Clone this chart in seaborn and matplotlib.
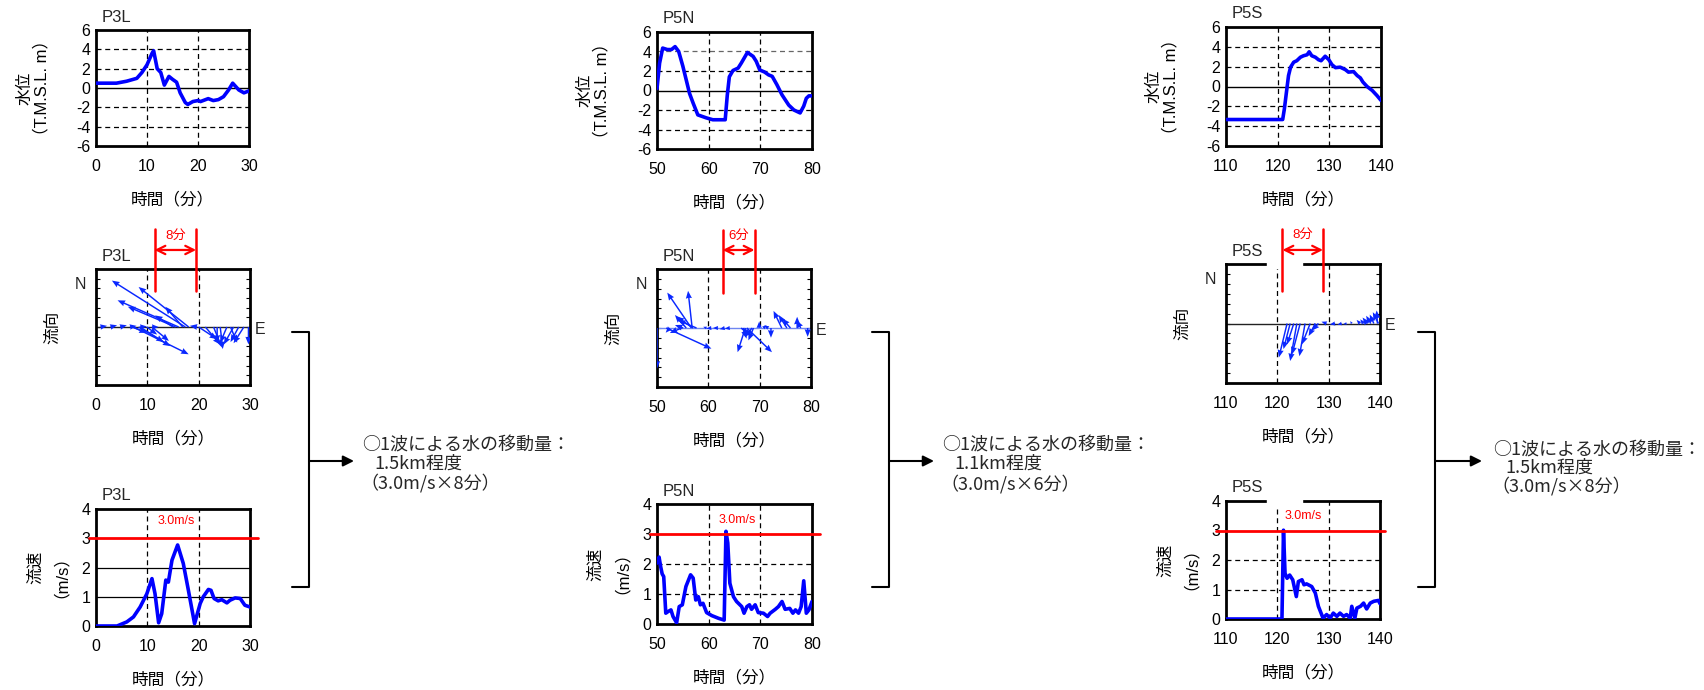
import numpy as np
import pandas as pd
import matplotlib
matplotlib.use("Agg")
import matplotlib.pyplot as plt
import seaborn as sns
from matplotlib.patches import Rectangle

sns.set_theme(style="white")
plt.rcParams["font.family"] = ["Liberation Sans", "Noto Sans CJK JP", "DejaVu Sans"]
plt.rcParams["axes.unicode_minus"] = False

# ---------------- data ----------------
stations = ["P3L", "P5N", "P5S"]
x_ranges = [(0, 30), (50, 80), (110, 140)]
x_ticks = [[0, 10, 20, 30], [50, 60, 70, 80], [110, 120, 130, 140]]
bracket_t = [(11.4, 19.5), (62.8, 69.0), (121.0, 128.9)]
bracket_label = ["8分", "6分", "8分"]
result_km = ["1.5km程度", "1.1km程度", "1.5km程度"]
result_formula = ["（3.0m/s×8分）", "（3.0m/s×6分）", "（3.0m/s×8分）"]
speed_ref = 3.0

# water level (T.M.S.L. m)
p3l_wl_t = [0, 4, 6, 8, 9, 10, 10.5, 11, 11.3, 12, 12.7, 13.4, 14.3, 15, 15.8, 16.5, 17, 17.5, 18,
            19, 20, 20.5, 21, 22, 23, 24, 25, 26, 26.8, 28, 29, 30]
p3l_wl = [0.5, 0.5, 0.7, 1.0, 1.6, 2.4, 3.0, 3.6, 3.85, 2.0, 1.6, 0.3, 1.2, 0.9, 0.6, -0.5, -1.0, -1.5, -1.7,
          -1.4, -1.3, -1.4, -1.3, -1.1, -1.3, -1.2, -0.9, -0.2, 0.5, -0.2, -0.5, -0.3]
p5n_wl_t = [50, 50.5, 51.1, 52, 52.8, 53.5, 54.2, 55, 56.3, 57, 57.9, 59.5, 60.8, 63.2, 63.6, 64.0, 64.7,
            65.7, 66.3, 67.5, 68.6, 69.2, 69.9, 70.8, 71.6, 72.3, 73.2, 74.2, 75.5, 76.5, 77.7, 78.4,
            78.9, 79.4, 80]
p5n_wl = [0.2, 2.8, 4.35, 4.2, 4.2, 4.5, 4.0, 2.5, -0.3, -1.3, -2.5, -2.8, -3.0, -3.0, -0.5, 1.4, 2.05,
          2.3, 2.8, 3.9, 3.5, 3.0, 2.1, 1.9, 1.6, 1.45, 0.6, -0.45, -1.5, -2.0, -2.3, -1.6, -0.8, -0.55, -0.55]
p5s_wl_t = [110, 120.97, 121.3, 121.7, 122.1, 122.5, 123.1, 123.7, 124.4, 125.0, 125.7, 126.1, 126.6,
            127.3, 127.9, 128.4, 129.2, 129.9, 130.5, 131.2, 132.1, 133.1, 133.7, 134.7, 135.4, 136.0,
            136.5, 137.3, 138.3, 139.2, 140]
p5s_wl = [-3.33, -3.33, -2.25, -0.57, 1.1, 1.95, 2.45, 2.6, 2.95, 3.1, 3.2, 3.5, 3.1, 2.95, 2.7, 2.6,
          3.05, 2.7, 2.2, 1.9, 1.95, 1.7, 1.45, 1.5, 1.1, 0.87, 0.45, 0.0, -0.4, -0.9, -1.4]

# flow speed (m/s)
p3l_v_t = [0, 4.1, 6.0, 7.3, 8.6, 9.9, 10.9, 11.5, 12.2, 12.8, 13.6, 14.1, 14.8, 15.9, 17.0, 18.0, 19.2,
           20.3, 20.9, 21.9, 22.4, 23.0, 23.8, 24.5, 25.5, 26.1, 27.1, 28.1, 29.0, 30]
p3l_v = [0, 0, 0.14, 0.31, 0.65, 1.1, 1.62, 1.1, 0.11, 0.42, 1.57, 1.5, 2.25, 2.77, 2.14, 1.22, 0.08,
         0.77, 1.0, 1.25, 1.22, 0.94, 0.86, 0.9, 0.79, 0.88, 0.96, 0.94, 0.71, 0.65]
p5n_v_t = [50, 50.4, 50.7, 51.0, 51.3, 51.7, 52.1, 52.7, 53.1, 53.8, 54.3, 54.9, 55.6, 56.5, 57.0, 57.5,
           58.0, 58.4, 58.9, 59.6, 60.6, 61.9, 63.0, 63.35, 63.7, 64.1, 64.8, 65.4, 66.4, 66.85, 67.4,
           67.9, 68.3, 69.0, 69.6, 70.6, 71.4, 71.9, 72.9, 73.5, 74.2, 74.8, 75.7, 76.3, 76.8, 77.4,
           77.9, 78.4, 78.9, 79.4, 80]
p5n_v = [2.03, 2.23, 1.92, 1.67, 1.58, 0.36, 0.41, 0.47, 0.25, 0.04, 0.58, 0.64, 1.25, 1.64, 1.53, 0.8,
         0.91, 0.64, 0.69, 0.38, 0.28, 0.19, 0.13, 3.09, 2.7, 1.36, 0.91, 0.75, 0.58, 0.36, 0.58,
         0.64, 0.49, 0.64, 0.38, 0.36, 0.25, 0.36, 0.49, 0.58, 0.75, 0.49, 0.52, 0.36, 0.47, 0.36,
         0.58, 1.44, 0.36, 0.47, 0.75]
p5s_v_t = [110, 120.9, 121.2, 121.5, 121.9, 122.4, 123.0, 123.7, 124.1, 124.8, 125.2, 125.7, 126.7,
           127.4, 128.0, 128.9, 129.6, 130.3, 130.9, 131.6, 132.2, 132.9, 133.5, 134.2, 134.5, 135.1,
           135.5, 136.2, 136.8, 137.4, 138.1, 138.8, 139.7, 140]
p5s_v = [0, 0, 3.01, 1.55, 1.38, 1.49, 1.33, 0.76, 1.27, 1.33, 1.16, 1.19, 1.1, 0.88, 0.43, 0.03, 0.15,
         0.03, 0.2, 0.09, 0.2, 0.09, 0.15, 0.03, 0.43, 0.03, 0.37, 0.43, 0.54, 0.34, 0.54, 0.6, 0.63, 0.52]

# flow direction vectors: tail time, east component, north component (axis units)
p3l_dir_t = [17.4, 18.05, 16.1, 15.5, 16.9, 15.0, 19.7, 0.85, 2.8, 4.7, 6.6, 8.6, 10.9, 7.3, 8.3, 8.6,
             7.0, 9.9, 10.9, 20.0, 21.3, 22.9, 24.2, 25.5, 26.8, 27.8, 26.2, 28.8, 29.7, 23.6]
p3l_dir_u = [-14.3, -9.75, -11.9, -9.3, -3.4, -3.5, -1.4, 1.3, 1.3, 1.3, 1.3, 1.3, 1.3, 10.75, 6.2, 4.6,
             2.9, 2.0, 3.3, 3.6, 2.9, 1.6, 0.5, -1.3, -1.9, -1.6, 1.3, -2.0, 0.0, 0.0]
p3l_dir_v = [0.80, 0.69, 0.46, 0.35, 0.35, 0.2, 0.02, 0.02, 0.03, 0.03, 0.02, 0.01, 0.0, -0.47, -0.33,
             -0.26, -0.1, -0.13, -0.24, -0.21, -0.30, -0.35, -0.38, -0.27, -0.3, -0.26, -0.27, -0.28,
             -0.3, -0.27]
p5n_dir_t = [50.0, 56.7, 56.85, 55.7, 57.0, 57.7, 55.1, 51.8, 54.8, 52.5, 60.6, 61.9, 63.2, 64.2, 59.65,
             67.2, 67.5, 66.8, 68.5, 66.4, 68.8, 69.9, 70.7, 71.7, 72.2, 74.3, 76.0, 75.3, 77.3, 79.35,
             78.0]
p5n_dir_u = [0.0, -4.7, -0.8, -2.2, -3.2, -3.6, -1.6, 8.8, -2.3, -0.8, -1.0, -1.0, -1.0, -1.0, -0.65,
             -1.5, 4.9, 0.65, -1.3, 1.6, -1.0, 0.0, 0.65, -0.85, 0.0, -1.6, -1.6, -1.6, 0.0, 0.0, -0.8]
p5n_dir_v = [-0.69, 0.6, 0.63, 0.22, 0.19, 0.13, 0.05, -0.35, -0.085, -0.08, -0.01, 0.0, -0.02, -0.01,
             0.02, -0.41, -0.41, -0.18, -0.15, -0.125, -0.21, 0.11, 0.05, 0.04, -0.165, 0.29, 0.16,
             0.22, 0.19, -0.15, 0.13]
p5s_dir_t = [121.9, 122.5, 123.8, 124.45, 125.4, 126.4, 127.4, 128.0, 123.2, 129.6, 131.25, 132.55,
             133.5, 134.5, 136.8, 137.5, 138.2, 138.8, 139.5, 139.7, 136.1]
p5s_dir_u = [-1.6, -1.3, -1.3, -1.6, -1.1, -1.6, -1.3, -1.3, -1.3, -1.0, -1.0, -0.85, -0.65, -0.3,
             -0.65, -0.9, -0.9, -0.8, -0.15, -1.1, -0.65]
p5s_dir_v = [-0.57, -0.43, -0.63, -0.52, -0.55, -0.35, -0.21, -0.12, -0.35, 0.03, -0.015, -0.02,
             -0.01, 0.04, 0.07, 0.1, 0.13, 0.15, 0.22, 0.19, 0.06]

wl_data = [(p3l_wl_t, p3l_wl), (p5n_wl_t, p5n_wl), (p5s_wl_t, p5s_wl)]
v_data = [(p3l_v_t, p3l_v), (p5n_v_t, p5n_v), (p5s_v_t, p5s_v)]
dir_data = [(p3l_dir_t, p3l_dir_u, p3l_dir_v), (p5n_dir_t, p5n_dir_u, p5n_dir_v),
            (p5s_dir_t, p5s_dir_u, p5s_dir_v)]

# ---------------- layout (pixels) ----------------
W, H = 1704, 690
fig = plt.figure(figsize=(W / 100, H / 100), dpi=100)

boxes = {
    ("wl", 0): (96, 30, 249, 146), ("dir", 0): (96, 269, 250, 385), ("v", 0): (96, 509, 250, 626),
    ("wl", 1): (657, 32, 812, 149), ("dir", 1): (657, 269, 811, 387), ("v", 1): (657, 504, 812, 624),
    ("wl", 2): (1226, 27, 1381, 146), ("dir", 2): (1226, 264, 1380, 383), ("v", 2): (1226, 501, 1380, 619),
}
bracket_y = [(1.345, 0.81, 1.164, 1.29), (1.331, 0.797, 1.161, 1.28), (1.294, 0.773, 1.118, 1.244)]
red_ext = [(-0.045, 1.052), (-0.045, 1.052), (-0.065, 1.03)]
speed_txt_x = [15.6, 65.5, 125.0]
speed_txt_y = [3.6, 3.47, 3.49]

BLUE = "#0000ff"
ARROW = "#0a28ff"
FS = 11.5
LFS = 12
XL = "時間（分）"


def make_ax(kind, i):
    l, t, r, b = boxes[(kind, i)]
    ax = fig.add_axes([l / W, 1 - b / H, (r - l) / W, (b - t) / H])
    for s in ax.spines.values():
        s.set_color("black")
        s.set_linewidth(2.0)
    ax.set_xlim(*x_ranges[i])
    ax.set_xticks(x_ticks[i])
    ax.tick_params(axis="both", length=0, labelsize=FS, colors="black")
    ax.tick_params(axis="x", pad=9.5)
    ax.tick_params(axis="y", pad=4)
    ax.set_xlabel(XL, fontsize=LFS, color="black")
    ax.xaxis.set_label_coords(0.5, -53 / (b - t))
    ax.xaxis.label.set_va("center")
    ax.annotate(stations[i], xy=(0, 1), xycoords="axes fraction", xytext=(6, 13),
                textcoords="offset pixels", ha="left", va="center", fontsize=12)
    return ax


for i in range(3):
    # ---- water level ----
    ax = make_ax("wl", i)
    t, y = wl_data[i]
    ax.set_ylim(-6, 6)
    ax.set_yticks(range(-6, 7, 2))
    for g in (-4, -2, 2, 4):
        ax.axhline(g, color="#666666" if (i == 1 and g == 4) else "black", lw=0.9, ls=(0, (4, 3)), zorder=1)
    ax.axhline(0, color="black", lw=1.0, zorder=1)
    for g in x_ticks[i][1:3]:
        ax.axvline(g, color="black", lw=0.9, ls=(0, (4, 3)), zorder=1)
    sns.lineplot(x=t, y=y, ax=ax, color=BLUE, linewidth=2.6, estimator=None, zorder=3)
    ax.set_ylabel("水位\n（T.M.S.L. m）", fontsize=LFS, color="black", linespacing=1.1,
                  ha="center", va="center")
    ax.yaxis.set_label_coords(-0.41, 0.5)
    ax.set_xlabel(XL, fontsize=LFS)

    # ---- flow direction ----
    ax = make_ax("dir", i)
    t, u, v = dir_data[i]
    ax.set_ylim(-1, 1)
    ax.set_yticks(np.linspace(-1, 1, 13))
    ax.set_yticklabels([])
    ax.tick_params(axis="y", direction="in", length=3, width=0.8, left=True, right=True)
    for g in x_ticks[i][1:3]:
        ax.axvline(g, color="black", lw=0.9, ls=(0, (4, 3)), zorder=1)
    ax.axhline(0, color="#6f86f0" if i == 1 else "#222222", lw=1.0, zorder=1)
    ax.quiver(t, np.zeros(len(t)), u, v, angles="xy", scale_units="xy", scale=1, pivot="tail",
              color=ARROW, width=0.0095, headwidth=4.2, headlength=5.2, headaxislength=4.8, zorder=3)
    ax.set_ylabel("流向", fontsize=LFS, color="black", ha="center", va="center")
    ax.yaxis.set_label_coords(-0.285, 0.5)
    ax.text(-0.1, 0.87, "N", transform=ax.transAxes, ha="center", va="center", fontsize=FS)
    ax.text(1.065, 0.48, "E", transform=ax.transAxes, ha="center", va="center", fontsize=FS)
    ax.set_xlabel(XL, fontsize=LFS)
    # red bracket (duration of one wave)
    tr = ax.get_xaxis_transform()
    t1, t2 = bracket_t[i]
    ytop, ybot, yarr, ytxt = bracket_y[i]
    for tt in (t1, t2):
        ax.plot([tt, tt], [ybot, ytop], transform=tr, color="red", lw=1.8, clip_on=False, zorder=12)
    ax.annotate("", xy=(t2, yarr), xytext=(t1, yarr), xycoords=tr, textcoords=tr,
                arrowprops=dict(arrowstyle="<->", color="red", lw=1.6, shrinkA=0, shrinkB=0,
                                mutation_scale=15), zorder=12)
    ax.text((t1 + t2) / 2, ytxt, bracket_label[i], transform=tr, color="red", ha="center",
            va="center", fontsize=9.5)
    if i == 2:
        ax.add_patch(Rectangle((0.264, 0.97), 0.227, 0.06, transform=ax.transAxes, color="white",
                               clip_on=False, zorder=10))

    # ---- flow speed ----
    ax = make_ax("v", i)
    t, y = v_data[i]
    ax.set_ylim(0, 4)
    ax.set_yticks(range(0, 5))
    for g in (1, 2):
        ax.axhline(g, color="black", lw=0.9, ls="-" if i == 0 else (0, (4, 3)), zorder=1)
    for g in x_ticks[i][1:3]:
        ax.axvline(g, color="black", lw=0.9, ls=(0, (4, 3)), zorder=1)
    sns.lineplot(x=t, y=y, ax=ax, color=BLUE, linewidth=2.6, estimator=None, zorder=3)
    ax.plot(list(red_ext[i]), [speed_ref, speed_ref], transform=ax.get_yaxis_transform(),
            color="red", lw=2.0, clip_on=False, zorder=5)
    ax.text(speed_txt_x[i], speed_txt_y[i], f"{speed_ref:.1f}m/s", color="red", ha="center",
            va="center", fontsize=9)
    ax.set_ylabel("流速\n（m/s）", fontsize=LFS, color="black", linespacing=1.1,
                  ha="center", va="center")
    ax.yaxis.set_label_coords(-0.34, 0.5)
    ax.set_xlabel(XL, fontsize=LFS)
    if i == 2:
        ax.add_patch(Rectangle((0.264, 0.97), 0.227, 0.06, transform=ax.transAxes, color="white",
                               clip_on=False, zorder=10))

# ---------------- brackets & summary text ----------------
ov = fig.add_axes([0, 0, 1, 1], zorder=-1)
ov.set_xlim(0, W)
ov.set_ylim(H, 0)
ov.axis("off")
ov.patch.set_alpha(0)
brk_x = [309, 889, 1435]
arrow_tip = [354, 934, 1482]
text_x = [362, 942, 1493]
text_y = [(446, 464, 483), (446, 464, 484), (451, 468, 486)]
cjk = ["Noto Sans CJK JP", "DejaVu Sans"]
for i in range(3):
    bx = brk_x[i]
    ov.plot([bx - 17, bx, bx, bx - 17], [332, 332, 587, 587], color="black", lw=1.5)
    ov.annotate("", xy=(arrow_tip[i], 461), xytext=(bx, 461),
                arrowprops=dict(arrowstyle="-|>", color="black", lw=1.5, shrinkA=0, shrinkB=0,
                                mutation_scale=16))
    y1, y2, y3 = text_y[i]
    ov.text(text_x[i], y1, "○1波による水の移動量：", ha="left", va="center", fontsize=13, family=cjk)
    ov.text(text_x[i] + 12, y2, result_km[i], ha="left", va="center", fontsize=13, family=cjk)
    ov.text(text_x[i] - 2, y3, result_formula[i], ha="left", va="center", fontsize=13, family=cjk)

fig.savefig("out.png", dpi=100)
